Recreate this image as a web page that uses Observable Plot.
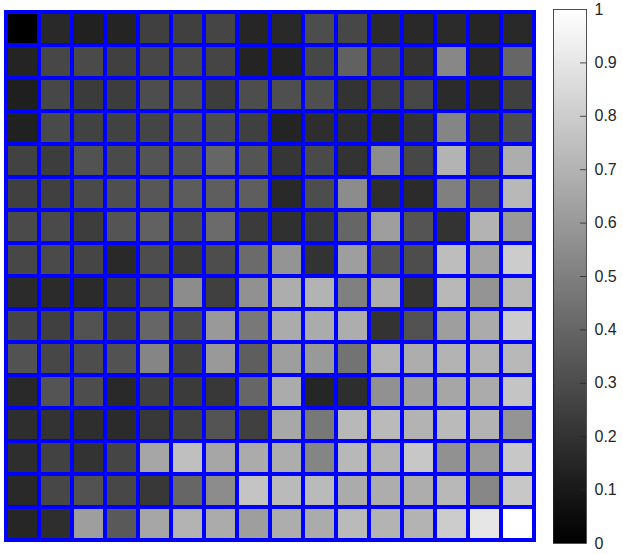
<!DOCTYPE html>
<html>
<head>
<meta charset="utf-8">
<script src="https://cdn.jsdelivr.net/npm/d3@7"></script>
<script src="https://cdn.jsdelivr.net/npm/@observablehq/plot@0.6"></script>
<style>
  body { margin: 0; background: #fff; }
  #wrap { position: relative; width: 623px; height: 554px; }
  #wrap svg { position: absolute; left: 0; top: 0; }
</style>
</head>
<body>
<div id="wrap"></div>
<script>
// Matrix values, one array per displayed row (top to bottom)
const row01 = [0.00,0.16,0.13,0.14,0.25,0.25,0.27,0.15,0.16,0.30,0.28,0.17,0.16,0.17,0.15,0.16];
const row02 = [0.14,0.28,0.29,0.25,0.28,0.29,0.27,0.14,0.14,0.28,0.38,0.27,0.20,0.53,0.16,0.40];
const row03 = [0.12,0.28,0.23,0.24,0.30,0.30,0.24,0.30,0.31,0.31,0.20,0.25,0.28,0.17,0.16,0.25];
const row04 = [0.13,0.29,0.26,0.26,0.27,0.30,0.30,0.25,0.14,0.18,0.18,0.16,0.20,0.52,0.22,0.30];
const row05 = [0.26,0.24,0.32,0.29,0.33,0.33,0.40,0.33,0.21,0.29,0.20,0.55,0.28,0.70,0.27,0.68];
const row06 = [0.25,0.25,0.29,0.31,0.34,0.36,0.37,0.37,0.16,0.30,0.55,0.18,0.17,0.50,0.35,0.72];
const row07 = [0.29,0.29,0.24,0.33,0.38,0.31,0.42,0.23,0.19,0.23,0.40,0.62,0.33,0.20,0.70,0.60];
const row08 = [0.28,0.29,0.27,0.16,0.30,0.23,0.30,0.42,0.58,0.20,0.62,0.33,0.30,0.74,0.64,0.80];
const row09 = [0.17,0.17,0.17,0.22,0.32,0.55,0.25,0.57,0.68,0.70,0.50,0.68,0.20,0.72,0.58,0.72];
const row10 = [0.27,0.25,0.32,0.25,0.40,0.30,0.60,0.47,0.67,0.67,0.68,0.20,0.32,0.62,0.67,0.80];
const row11 = [0.32,0.28,0.30,0.32,0.52,0.26,0.60,0.37,0.62,0.60,0.45,0.70,0.68,0.70,0.70,0.72];
const row12 = [0.16,0.33,0.30,0.16,0.25,0.23,0.22,0.40,0.67,0.15,0.18,0.57,0.62,0.65,0.67,0.77];
const row13 = [0.18,0.20,0.18,0.17,0.22,0.26,0.33,0.25,0.66,0.47,0.72,0.73,0.70,0.73,0.70,0.58];
const row14 = [0.18,0.26,0.20,0.27,0.65,0.75,0.65,0.67,0.68,0.52,0.72,0.70,0.78,0.57,0.60,0.78];
const row15 = [0.16,0.28,0.32,0.28,0.22,0.40,0.55,0.77,0.73,0.73,0.67,0.68,0.68,0.72,0.53,0.78];
const row16 = [0.15,0.18,0.62,0.35,0.65,0.70,0.67,0.62,0.68,0.67,0.73,0.70,0.70,0.80,0.90,1.00];
const rows = [row01,row02,row03,row04,row05,row06,row07,row08,row09,row10,row11,row12,row13,row14,row15,row16];
const colorTicks = [0,0.1,0.2,0.3,0.4,0.5,0.6,0.7,0.8,0.9,1];

const cells = rows.flatMap((r, i) => r.map((v, j) => ({row: i, col: j, value: v})));
const W = 623, H = 554;
const colorScale = {type: "linear", domain: [0, 1], range: ["black", "white"], interpolate: "rgb"};

const grid = Plot.plot({
  width: W, height: H,
  marginLeft: 4, marginRight: 88, marginTop: 11, marginBottom: 13,
  x: {type: "band", domain: d3.range(16), padding: 0, axis: null},
  y: {type: "band", domain: d3.range(16), padding: 0, axis: null},
  color: colorScale,
  style: {background: "transparent"},
  marks: [
    Plot.cell(cells, {x: "col", y: "row", fill: "value", inset: 0}),
    Plot.cell(cells, {x: "col", y: "row", fill: "none", stroke: "#0000ff", strokeWidth: 4, inset: 0})
  ]
});

// colorbar gradient: continuous ramp split into overlapping strips
const N = 256;
const strips = d3.range(N).map(i => ({y1: i / N, y2: Math.min(1, (i + 2) / N), v: (i + 0.5) / N}));
const bar = Plot.plot({
  width: W, height: H,
  marginLeft: 553, marginRight: 37, marginTop: 9, marginBottom: 11,
  x: {domain: [0, 1], axis: null},
  y: {domain: [0, 1], axis: null},
  color: colorScale,
  style: {background: "transparent", fontFamily: "'Liberation Sans', Arial, sans-serif", fontSize: "16px", color: "#262626"},
  marks: [
    Plot.rectY(strips, {x1: 0, x2: 1, y1: "y1", y2: "y2", fill: "v", inset: 0, shapeRendering: "crispEdges"}),
    Plot.ruleY(colorTicks.slice(1, -1), {y: d => d, x1: 0.82, x2: 1, stroke: "#262626", strokeWidth: 0.8}),
    Plot.frame({stroke: "#262626", strokeWidth: 0.8}),
    Plot.axisY(colorTicks, {anchor: "right", tickSize: 0, tickPadding: 8, tickFormat: d => String(d), fontSize: 16, fill: "#262626"})
  ]
});

const wrap = document.getElementById("wrap");
wrap.appendChild(grid);
wrap.appendChild(bar);
</script>
</body>
</html>
